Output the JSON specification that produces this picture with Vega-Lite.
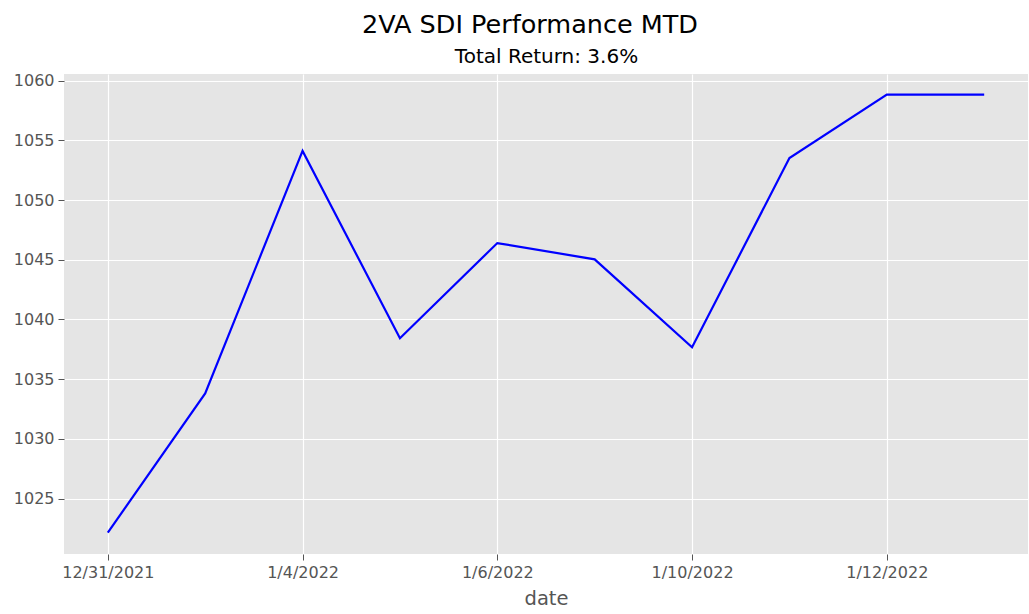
{
  "$schema": "https://vega.github.io/schema/vega-lite/v6.json",
  "autosize": "none",
  "width": 964,
  "height": 480,
  "padding": {"left": 64, "top": 74, "right": 0, "bottom": 60},
  "background": "white",
  "title": {
    "text": "2VA SDI Performance MTD",
    "font": "DejaVu Sans",
    "fontSize": 25.5,
    "fontWeight": "normal",
    "color": "black",
    "anchor": "middle",
    "dx": -16,
    "offset": 8
  },
  "config": {
    "view": {"fill": "#E5E5E5", "stroke": null},
    "axis": {
      "labelFont": "DejaVu Sans",
      "labelFontSize": 16,
      "labelColor": "#555555",
      "titleFont": "DejaVu Sans",
      "titleFontWeight": "normal",
      "titleColor": "#555555",
      "tickColor": "#555555",
      "tickSize": 6,
      "tickWidth": 1,
      "domain": false,
      "gridColor": "white",
      "gridWidth": 1.2,
      "gridOpacity": 1
    }
  },
  "data": {
    "values": [
      {"date": "12/31/2021", "value": 1022.15},
      {"date": "1/3/2022", "value": 1033.81},
      {"date": "1/4/2022", "value": 1054.12},
      {"date": "1/5/2022", "value": 1038.43},
      {"date": "1/6/2022", "value": 1046.40},
      {"date": "1/7/2022", "value": 1045.04},
      {"date": "1/10/2022", "value": 1037.67},
      {"date": "1/11/2022", "value": 1053.52},
      {"date": "1/12/2022", "value": 1058.84},
      {"date": "1/13/2022", "value": 1058.84}
    ]
  },
  "layer": [
    {
      "mark": {"type": "line", "color": "#0000FF", "strokeWidth": 2.2, "clip": true},
      "encoding": {
        "x": {
          "field": "date",
          "type": "ordinal",
          "sort": null,
          "scale": {"type": "point", "padding": 0.45},
          "axis": {
            "values": ["12/31/2021", "1/4/2022", "1/6/2022", "1/10/2022", "1/12/2022"],
            "labelAngle": 0,
            "labelPadding": 4,
            "title": "date",
            "titleFontSize": 19.5,
            "titlePadding": 9,
            "grid": true
          }
        },
        "y": {
          "field": "value",
          "type": "quantitative",
          "scale": {"domain": [1020.36, 1060.56], "nice": false, "zero": false},
          "axis": {
            "values": [1025, 1030, 1035, 1040, 1045, 1050, 1055, 1060],
            "format": "d",
            "title": null,
            "labelPadding": 4,
            "grid": true
          }
        }
      }
    },
    {
      "mark": {"type": "line", "opacity": 0},
      "encoding": {
        "x": {
          "field": "date",
          "type": "ordinal",
          "sort": null,
          "axis": {
            "orient": "top",
            "labels": false,
            "ticks": false,
            "grid": false,
            "domain": false,
            "title": "Total Return: 3.6%",
            "titleFontSize": 20,
            "titleColor": "black",
            "titlePadding": 8
          }
        },
        "y": {"field": "value", "type": "quantitative"}
      }
    }
  ],
  "resolve": {"axis": {"x": "independent"}}
}
